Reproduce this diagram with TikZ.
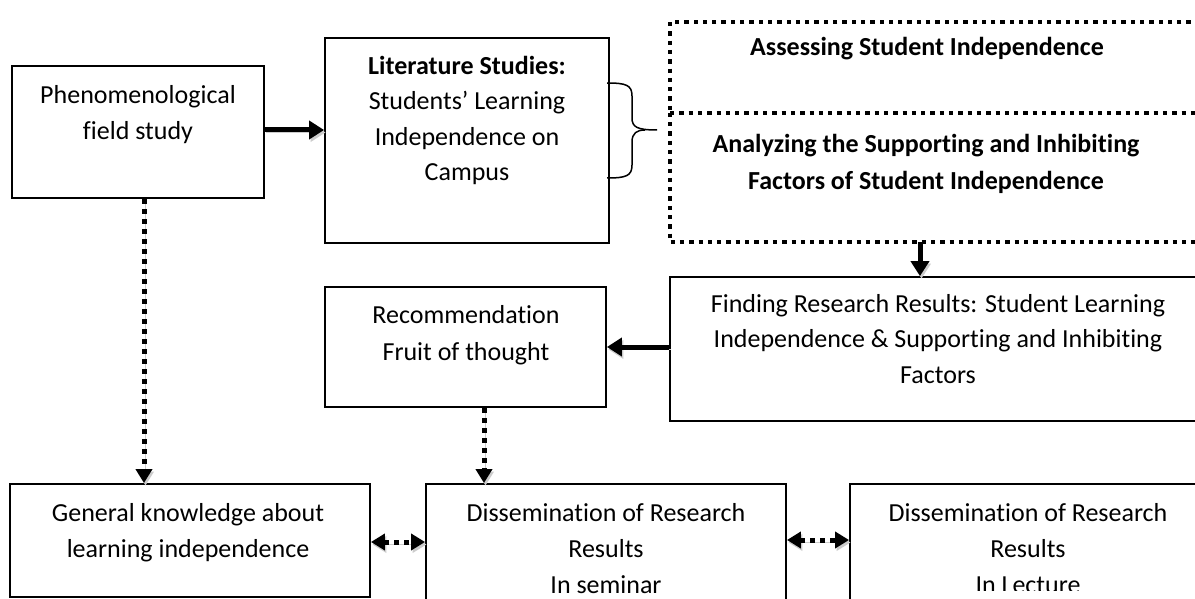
\documentclass[tikz,border=0pt]{standalone}
\usepackage{fontspec}
\setmainfont[Ligatures={NoCommon,NoContextual},Contextuals=NoAlternate]{Carlito}
\usetikzlibrary{arrows.meta}
\begin{document}
\begin{tikzpicture}[x=1pt,y=-1pt,
  box/.style={draw, line width=1.8pt, rectangle, inner sep=0pt},
  dotline/.style={line width=4.3pt, dash pattern=on 4.3pt off 5pt},
  txt/.style={anchor=north, inner sep=0pt, align=center, font=\fontsize{26}{36}\selectfont},
  txtb/.style={anchor=north, inner sep=0pt, align=center, font=\fontsize{26}{37}\selectfont\bfseries},
  tharrow/.style={line width=5pt, -{Triangle[length=15pt,width=18pt]}},
  dotarrow/.style={line width=5pt, dash pattern=on 5pt off 5pt, -{Triangle[length=14pt,width=16pt]}},
  dotboth/.style={line width=5pt, dash pattern=on 5pt off 5pt, {Triangle[length=14pt,width=16pt]}-{Triangle[length=14pt,width=16pt]}},
  shade/.style={preaction={draw=black!20, transform canvas={shift={(1.5pt,-2.5pt)}}}}
]
\useasboundingbox (0,0) rectangle (1195,599);
\fill[white] (0,0) rectangle (1195,599);
\clip (0,0) rectangle (1195,599);

% boxes
\node[box, minimum width=252pt, minimum height=132pt] (phen) at (138,132) {};
\node[box, minimum width=284pt, minimum height=205pt] (lit) at (467,140.5) {};
\node[box, dotline, minimum width=545pt, minimum height=91pt] (assess) at (942.5,67.5) {};
\node[inner sep=0pt, minimum width=545pt, minimum height=129pt] (analyze) at (942.5,177.5) {};
\draw[dotline] (analyze.north west) -- (analyze.south west) -- (analyze.south east);
\node[box, minimum width=545pt, minimum height=144pt] (finding) at (942.5,349) {};
\node[box, minimum width=281pt, minimum height=120pt] (rec) at (465.5,347) {};
\node[box, minimum width=360pt, minimum height=113pt] (general) at (190,540.5) {};
\node[box, minimum width=360pt, minimum height=136pt] (seminar) at (606,552) {};
\node[box, minimum width=365pt, minimum height=136pt] (lecture) at (1032.5,552) {};

% texts
\node[txt] (phen-t) at (138,82) {\rule{0pt}{21pt}Phenomenological\\field study};
\node[txt, font=\fontsize{26}{35.5}\selectfont] (lit-t) at (467,53) {\rule{0pt}{21pt}\textbf{Literature Studies:}\\Students’ Learning\\Independence on\\Campus};
\node[txtb] (assess-t) at (927,34) {\rule{0pt}{21pt}Assessing Student Independence};
\node[txtb] (analyze-t) at (926,131) {\rule{0pt}{21pt}Analyzing the Supporting and Inhibiting\\Factors of Student Independence};
\node[txt, font=\fontsize{26}{35.5}\selectfont] (finding-t) at (938,291) {\rule{0pt}{21pt}Finding Research Results: Student Learning\\Independence \& Supporting and Inhibiting\\Factors};
\node[txt, font=\fontsize{26}{37}\selectfont] (rec-t) at (466,302) {\rule{0pt}{21pt}Recommendation\\Fruit of thought};
\node[txt] (general-t) at (188,500) {\rule{0pt}{21pt}General knowledge about\\learning independence};
\node[txt] (seminar-t) at (606,500) {\rule{0pt}{21pt}Dissemination of Research\\Results\\In seminar};
\begin{scope}
\clip (850,484) rectangle (1195,590);
\node[txt] (lecture-t) at (1028,500) {\rule{0pt}{21pt}Dissemination of Research\\Results\\In Lecture};
\end{scope}

% brace
\draw[line width=1.5pt] (607,83) .. controls (626,83) and (632,85) .. (632,96) -- (632,118) .. controls (632,127) and (637,130) .. (657,130);
\draw[line width=1.5pt] (607,178) .. controls (626,178) and (632,176) .. (632,165) -- (632,142) .. controls (632,133) and (637,130) .. (645,130);

% connectors
\coordinate (c1) at (0,130);
\draw[tharrow, shade] (phen.east |- c1) -- (lit.west |- c1);
\coordinate (c2) at (920,0);
\draw[tharrow, shade] (analyze.south -| c2) -- (finding.north -| c2);
\coordinate (c3) at (0,347);
\draw[tharrow, shade] (finding.west |- c3) -- (rec.east |- c3);
\coordinate (c4) at (144,0);
\draw[dotarrow, shade] (phen.south -| c4) -- (general.north -| c4);
\coordinate (c5) at (484,0);
\draw[dotarrow, shade] (rec.south -| c5) -- (seminar.north -| c5);
\coordinate (c6) at (0,542);
\draw[dotboth, shade] (general.east |- c6) -- (seminar.west |- c6);
\coordinate (c7) at (0,540);
\draw[dotboth, shade] (seminar.east |- c7) -- (lecture.west |- c7);
\end{tikzpicture}
\end{document}
